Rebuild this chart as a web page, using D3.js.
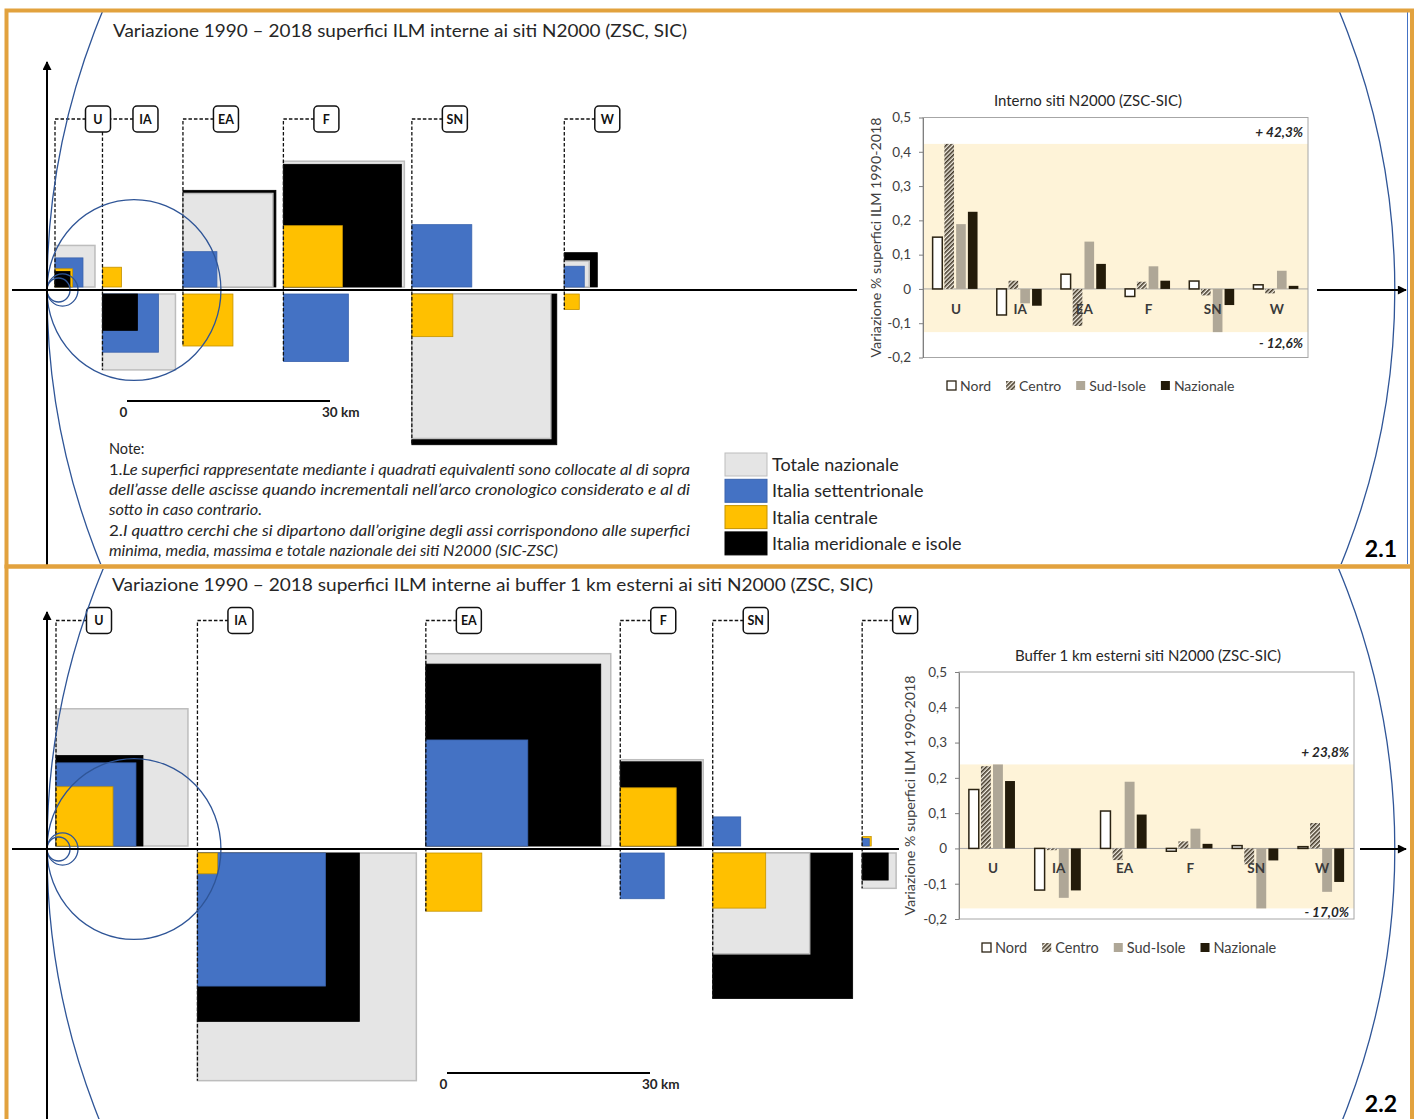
<!DOCTYPE html>
<html>
<head>
<meta charset="utf-8">
<title>Variazione 1990-2018 superfici ILM</title>
<script src="https://cdn.jsdelivr.net/npm/d3@7/dist/d3.min.js"></script>
<style>
  body { margin: 0; background: #fff; }
  svg text { font-family: Lato, "Open Sans", sans-serif; fill: #262626; }
</style>
</head>
<body>
<svg id="figura" width="1417" height="1119"></svg>
<script>
/* ---------- dati ---------- */
var categorie = ["U", "IA", "EA", "F", "SN", "W"];
var regioni = ["Totale nazionale", "Italia settentrionale", "Italia centrale", "Italia meridionale e isole"];

/* superfici di variazione 1990-2018 (km2): + incremento, - decremento */
// 2.1 interno siti N2000
var totale21 = [34.9, -116.3, 176.7, 319.5, -421.6, 13.6];
var nord21   = [17.1, -68.4, 25.2, -92.2, 78.5, 8.7];
var centro21 = [6.7, 7.9, -54.6, 76.0, -36.7, -4.9];
var sud21    = [4.9, -26.7, 188.7, 303.8, -458.8, 23.8];
// 2.2 buffer 1 km esterni
var totale22 = [380.2, -1046.5, 746.8, 150.3, -205.3, -25.2];
var nord22   = [139.6, -357.5, 227.0, -42.2, 17.1, 1.1];
var centro22 = [70.9, -8.7, -68.4, 68.4, -61.3, 1.8];
var sud22    = [165.2, -572.6, 668.2, 143.2, -427.7, -14.8];

/* superfici siti N2000 (km2): minima, media, massima, totale (cerchi equivalenti) */
var cerchi = [9.1, 16.5, 519, 31160];

/* variazione % (grafici a barre) */
var serie = ["Nord", "Centro", "Sud-Isole", "Nazionale"];
var nordPct21   = [0.151, -0.076, 0.043, -0.022, 0.023, 0.012];
var centroPct21 = [0.423, 0.024, -0.108, 0.021, -0.019, -0.013];
var sudPct21    = [0.189, -0.042, 0.138, 0.066, -0.126, 0.053];
var nazPct21    = [0.225, -0.049, 0.073, 0.024, -0.047, 0.009];
var nordPct22   = [0.167, -0.118, 0.106, -0.008, 0.008, 0.005];
var centroPct22 = [0.233, -0.005, -0.033, 0.020, -0.045, 0.072];
var sudPct22    = [0.238, -0.140, 0.189, 0.056, -0.170, -0.123];
var nazPct22    = [0.191, -0.119, 0.096, 0.013, -0.034, -0.095];
var tickY = [-0.2, -0.1, 0, 0.1, 0.2, 0.3, 0.4, 0.5];

var note = [
  ["1.", "Le superfici rappresentate mediante i quadrati equivalenti sono collocate al di sopra"],
  ["", "dell\u2019asse delle ascisse quando incrementali nell\u2019arco cronologico considerato e al di"],
  ["", "sotto in caso contrario."],
  ["2.", "I quattro cerchi che si dipartono dall\u2019origine degli assi corrispondono alle superfici"],
  ["", "minima, media, massima e totale nazionale dei siti N2000 (SIC-ZSC)"]
];
/* ---------- fine dati ---------- */

var svg = d3.select("#figura");
var ARANCIO = "#E2A23E";
var ORIGINE_X = 47;
var ASPETTO = 1.04;      // l'immagine originale e' leggermente allungata in verticale
var riempimento = ["#E5E5E5", "#4472C4", "#FFC000", "#000000"];
var bordo = ["#BDBDBD", "#3A63AD", "#C49200", "#000000"];
var coloreBarre = ["#FFFFFF", "url(#tratteggio)", "#AFA797", "#231B0A"];

// scala km -> px (barra 0 - 30 km)
var km = d3.scaleLinear().domain([0, 30]).range([0, 203]);
function lato(area) { return km(Math.sqrt(Math.abs(area))); }

var virgola = d3.formatLocale({decimal: ",", thousands: ".", grouping: [3], currency: ["", "\u20ac"], minus: "-"});
var fmt1 = virgola.format(".1f");

/* defs */
var defs = svg.append("defs");
var pat = defs.append("pattern").attr("id", "tratteggio")
  .attr("patternUnits", "userSpaceOnUse").attr("width", 3).attr("height", 3)
  .attr("patternTransform", "rotate(45)");
pat.append("rect").attr("width", 3).attr("height", 3).attr("fill", "#F2EDE2");
pat.append("line").attr("x1", 0.8).attr("x2", 0.8).attr("y1", 0).attr("y2", 3)
  .attr("stroke", "#3A3020").attr("stroke-width", 1.5);
defs.append("marker").attr("id", "freccia")
  .attr("viewBox", "0 0 10 10").attr("refX", 9).attr("refY", 5)
  .attr("markerUnits", "userSpaceOnUse").attr("markerWidth", 10).attr("markerHeight", 9)
  .attr("orient", "auto")
  .append("path").attr("d", "M0,0L10,5L0,10z").attr("fill", "#000");

var pannelli = [
  {
    tag: "2.1", alto: 12, basso: 564, assey: 290, yFreccia: 62,
    titolo: "Variazione 1990 \u2013 2018 superfici ILM interne ai siti N2000 (ZSC, SIC)",
    titoloX: 113, titoloY: 37, titoloL: 574,
    dati: [totale21, nord21, centro21, sud21],
    primo: 8, passo: 7.5, etichettaY: 119,
    scalaX: 127, scalaY: 401, tagY: 557,
    barre: {
      titolo: "Interno siti N2000 (ZSC-SIC)", titoloX: 1088, titoloY: 106,
      left: 923, right: 1308, top: 117.5, bottom: 357.5,
      serie: [nordPct21, centroPct21, sudPct21, nazPct21],
      sfondo: [857, 88, 460, 312], legX: 947, legY: 386, font: 14,
      dyMax: -7, dyMin: 16, annRight: 1303, tickPad: 8, titoloAsseX: 876
    }
  },
  {
    tag: "2.2", alto: 569, basso: 1119, assey: 849, yFreccia: 612,
    titolo: "Variazione 1990 \u2013 2018 superfici ILM interne ai buffer 1 km esterni ai siti N2000 (ZSC, SIC)",
    titoloX: 112, titoloY: 591, titoloL: 761,
    dati: [totale22, nord22, centro22, sud22],
    primo: 9, passo: 9.5, etichettaY: 620.5,
    scalaX: 447, scalaY: 1073, tagY: 1112,
    barre: {
      titolo: "Buffer 1 km esterni siti N2000 (ZSC-SIC)", titoloX: 1148, titoloY: 661,
      left: 959, right: 1354, top: 672, bottom: 919,
      serie: [nordPct22, centroPct22, sudPct22, nazPct22],
      sfondo: [899, 640, 461, 320], legX: 982, legY: 948, font: 14.5,
      dyMax: -7, dyMin: 9, annRight: 1349, tickPad: 8, titoloAsseX: 910
    }
  }
];

pannelli.forEach(function(p, ip) {
  var g = svg.append("g").attr("class", "pannello-" + p.tag);
  defs.append("clipPath").attr("id", "clip" + ip)
    .append("rect").attr("x", 7).attr("y", p.alto).attr("width", 1404).attr("height", p.basso - p.alto);

  /* quadrati equivalenti */
  var gq = g.append("g").attr("class", "quadrati");
  var gl = g.append("g").attr("class", "guide");
  var ge = g.append("g").attr("class", "etichette");
  var x0 = ORIGINE_X + p.primo;
  categorie.forEach(function(cat, i) {
    var q = p.dati.map(function(arr, k) { return {k: k, v: arr[i], s: lato(arr[i])}; });
    q.sort(function(a, b) { return b.s - a.s; });
    gq.append("g").selectAll("rect").data(q).join("rect")
      .attr("x", x0)
      .attr("y", function(d) { return d.v >= 0 ? p.assey - 3 - d.s * ASPETTO : p.assey + 4; })
      .attr("width", function(d) { return d.s; })
      .attr("height", function(d) { return d.s * ASPETTO; })
      .attr("fill", function(d) { return riempimento[d.k]; })
      .attr("stroke", function(d) { return bordo[d.k]; })
      .attr("stroke-width", function(d) { return d.k === 0 ? 1.5 : 0.8; });

    var fondo = d3.max(q, function(d) { return d.v < 0 ? p.assey + 4 + d.s * ASPETTO : p.assey - 3; });
    var xb = x0 + 43;
    gl.append("path")
      .attr("d", "M" + (xb - 12) + "," + p.etichettaY + "H" + x0 + "V" + fondo)
      .attr("fill", "none").attr("stroke", "#111").attr("stroke-width", 1.3)
      .attr("stroke-dasharray", "3.5,2");
    ge.append("rect").attr("x", xb - 12.5).attr("y", p.etichettaY - 13)
      .attr("width", 25).attr("height", 26).attr("rx", 4)
      .attr("fill", "#fff").attr("stroke", "#111").attr("stroke-width", 1.5);
    ge.append("text").attr("x", xb).attr("y", p.etichettaY + 4.5)
      .attr("text-anchor", "middle").attr("font-size", 12.5).attr("font-weight", "bold")
      .style("fill", "#111").text(cat);

    x0 += d3.max(q, function(d) { return d.s; }) + p.passo;
  });

  /* cerchi dall'origine */
  g.append("g").attr("clip-path", "url(#clip" + ip + ")")
    .selectAll("ellipse").data(cerchi).join("ellipse")
    .attr("cx", function(d) { return ORIGINE_X + km(Math.sqrt(d / Math.PI)); })
    .attr("cy", p.assey)
    .attr("rx", function(d) { return km(Math.sqrt(d / Math.PI)); })
    .attr("ry", function(d) { return km(Math.sqrt(d / Math.PI)) * ASPETTO; })
    .attr("fill", "none").attr("stroke", "#2F5597").attr("stroke-width", 1.3);

  /* assi */
  g.append("line").attr("x1", 12).attr("x2", 1406).attr("y1", p.assey).attr("y2", p.assey)
    .attr("stroke", "#000").attr("stroke-width", 2).attr("marker-end", "url(#freccia)");
  g.append("line").attr("x1", ORIGINE_X).attr("x2", ORIGINE_X).attr("y1", p.basso + 2).attr("y2", p.yFreccia)
    .attr("stroke", "#000").attr("stroke-width", 2).attr("marker-end", "url(#freccia)");

  /* barra di scala */
  g.append("line").attr("x1", p.scalaX).attr("x2", p.scalaX + km(30))
    .attr("y1", p.scalaY).attr("y2", p.scalaY).attr("stroke", "#000").attr("stroke-width", 2);
  g.append("text").attr("x", p.scalaX - 3.5).attr("y", p.scalaY + 16).attr("text-anchor", "middle")
    .attr("font-size", 13.5).attr("font-weight", "bold").text("0");
  g.append("text").attr("x", p.scalaX + km(30) - 8).attr("y", p.scalaY + 16)
    .attr("font-size", 13.5).attr("font-weight", "bold").text("30 km");

  /* titolo e numero */
  g.append("text").attr("x", p.titoloX).attr("y", p.titoloY).attr("font-size", 18)
    .attr("textLength", p.titoloL).attr("lengthAdjust", "spacingAndGlyphs").text(p.titolo);
  g.append("text").attr("x", 1397).attr("y", p.tagY).attr("text-anchor", "end")
    .attr("font-size", 23).attr("font-weight", "bold").style("fill", "#000").text(p.tag);

  disegnaBarre(g, p.barre);
});

/* note e legenda (pannello 2.1) */
var gn = svg.append("g").attr("class", "note");
gn.append("text").attr("x", 109).attr("y", 454).attr("font-size", 14.5).text("Note:");
var lunghezze = [581, 581, 153, 581, 449];
note.forEach(function(r, i) {
  var t = gn.append("text").attr("x", 109).attr("y", 474.5 + i * 20.4).attr("font-size", 14.5)
    .attr("textLength", lunghezze[i]).attr("lengthAdjust", "spacingAndGlyphs");
  t.append("tspan").text(r[0]);
  t.append("tspan").attr("font-style", "italic").text(r[1]);
});

var gleg = svg.append("g").attr("class", "legenda");
regioni.forEach(function(r, i) {
  var y = 453 + i * 26.3;
  gleg.append("rect").attr("x", 725).attr("y", y).attr("width", 42).attr("height", 23)
    .attr("fill", riempimento[i]).attr("stroke", bordo[i]).attr("stroke-width", 1);
  gleg.append("text").attr("x", 772).attr("y", y + 18).attr("font-size", 18).text(r);
});

/* cornici arancio */
svg.append("line").attr("x1", 1407.5).attr("x2", 1407.5).attr("y1", 12).attr("y2", 564)
  .attr("stroke", "#4472C4").attr("stroke-width", 1);
svg.append("rect").attr("x", 6.5).attr("y", 10.5).attr("width", 1405.5).attr("height", 556)
  .attr("fill", "none").attr("stroke", ARANCIO).attr("stroke-width", 4);
svg.append("rect").attr("x", 6.5).attr("y", 566.5).attr("width", 1405.5).attr("height", 620)
  .attr("fill", "none").attr("stroke", ARANCIO).attr("stroke-width", 4);

function disegnaBarre(parent, c) {
  var g = parent.append("g").attr("class", "barre");
  g.append("rect").attr("x", c.sfondo[0]).attr("y", c.sfondo[1])
    .attr("width", c.sfondo[2]).attr("height", c.sfondo[3]).attr("fill", "#fff");

  var y = d3.scaleLinear().domain([-0.2, 0.5]).range([c.bottom, c.top]);
  var x0 = d3.scaleBand().domain(categorie).range([c.left, c.right])
    .paddingInner(0.3).paddingOuter(0.15);
  var x1 = d3.scaleBand().domain(d3.range(serie.length)).range([0, x0.bandwidth()]).paddingInner(0.18);

  var tutti = d3.merge(c.serie);
  var vmax = d3.max(tutti), vmin = d3.min(tutti);

  // fascia min-max
  g.append("rect").attr("x", c.left).attr("width", c.right - c.left)
    .attr("y", y(vmax)).attr("height", y(vmin) - y(vmax)).attr("fill", "#FEF3D8");
  g.append("line").attr("x1", c.left).attr("x2", c.right).attr("y1", y(0)).attr("y2", y(0))
    .attr("stroke", "#A6A6A6").attr("stroke-width", 1);

  // barre
  c.serie.forEach(function(vals, k) {
    g.append("g").selectAll("rect").data(vals).join("rect")
      .attr("x", function(d, i) { return x0(categorie[i]) + x1(k); })
      .attr("width", x1.bandwidth())
      .attr("y", function(d) { return y(Math.max(0, d)); })
      .attr("height", function(d) { return Math.abs(y(d) - y(0)); })
      .attr("fill", coloreBarre[k])
      .attr("stroke", k === 0 ? "#2B2313" : "none").attr("stroke-width", 1.5);
  });

  // etichette categorie
  g.selectAll("text.cat").data(categorie).join("text").attr("class", "cat")
    .attr("x", function(d) { return x0(d) + x0.bandwidth() / 2 + 1; })
    .attr("y", y(0) + 25).attr("text-anchor", "middle")
    .attr("font-size", 13.5).attr("font-weight", "bold").style("fill", "#3a3a3a")
    .text(function(d) { return d; });

  // cornice e asse
  g.append("rect").attr("x", c.left).attr("y", c.top).attr("width", c.right - c.left)
    .attr("height", c.bottom - c.top).attr("fill", "none").attr("stroke", "#A6A6A6");
  var ay = g.append("g").attr("transform", "translate(" + c.left + ",0)")
    .call(d3.axisLeft(y).tickValues(tickY).tickSize(4).tickSizeOuter(0).tickPadding(c.tickPad)
      .tickFormat(function(d) { return d === 0 ? "0" : fmt1(d); }));
  ay.attr("font-family", null).attr("font-size", null);
  ay.select(".domain").attr("stroke", "#7F7F7F");
  ay.selectAll(".tick line").attr("stroke", "#7F7F7F");
  ay.selectAll(".tick text").attr("font-size", 13.5).style("fill", "#404040");

  // valori max e min
  g.append("text").attr("x", c.annRight).attr("y", y(vmax) + c.dyMax).attr("text-anchor", "end")
    .attr("font-size", 13.5).attr("font-weight", "bold").attr("font-style", "italic")
    .text("+ " + fmt1(vmax * 100) + "%");
  g.append("text").attr("x", c.annRight).attr("y", y(vmin) + c.dyMin).attr("text-anchor", "end")
    .attr("font-size", 13.5).attr("font-weight", "bold").attr("font-style", "italic")
    .text("- " + fmt1(-vmin * 100) + "%");

  // titoli
  g.append("text").attr("x", c.titoloX).attr("y", c.titoloY).attr("text-anchor", "middle")
    .attr("font-size", 15).text(c.titolo);
  g.append("text").attr("transform", "translate(" + c.titoloAsseX + "," + ((c.top + c.bottom) / 2) + ") rotate(-90)")
    .attr("text-anchor", "middle").attr("dy", "0.35em").attr("font-size", 13.5)
    .attr("textLength", 240).attr("lengthAdjust", "spacingAndGlyphs").style("fill", "#404040")
    .text("Variazione % superfici ILM 1990-2018");

  // legenda
  var xl = c.legX;
  serie.forEach(function(s, k) {
    g.append("rect").attr("x", xl).attr("y", c.legY - 5).attr("width", 9).attr("height", 9)
      .attr("fill", coloreBarre[k]).attr("stroke", k === 0 ? "#2B2313" : "none").attr("stroke-width", 1.3);
    var t = g.append("text").attr("x", xl + 13).attr("y", c.legY + 4.5)
      .attr("font-size", c.font).style("fill", "#404040").text(s);
    xl += 13 + t.node().getComputedTextLength() + 15;
  });
}
</script>
</body>
</html>
